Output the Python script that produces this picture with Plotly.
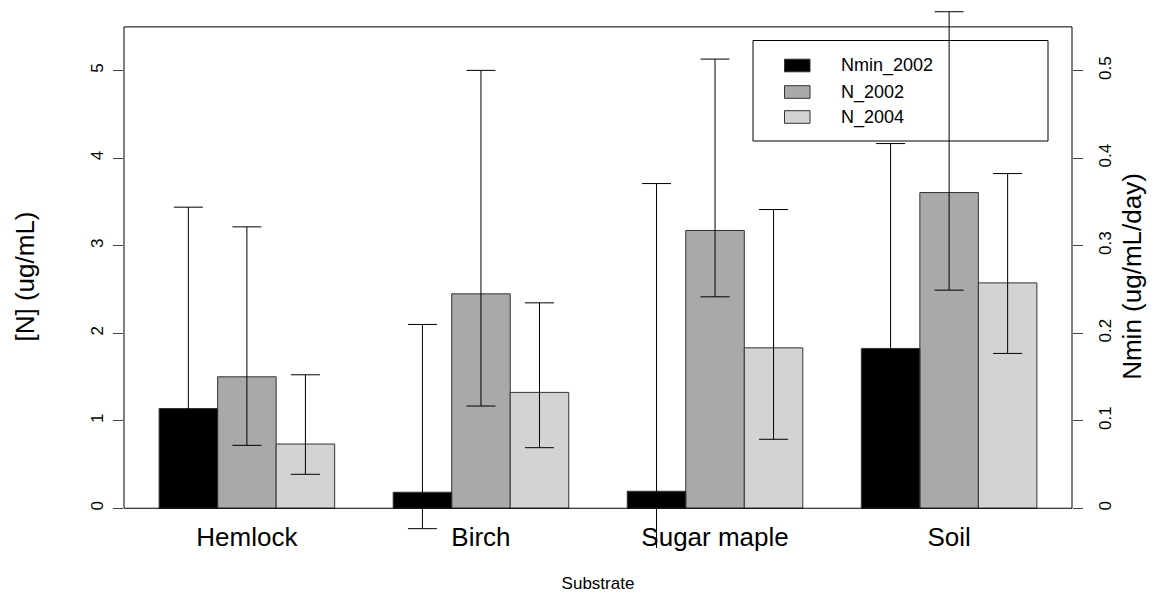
import plotly.graph_objects as go

# ---- data ----
categories = ["Hemlock", "Birch", "Sugar maple", "Soil"]
series_names = ["Nmin_2002", "N_2002", "N_2004"]

nmin_2002 = [0.114, 0.0183, 0.0194, 0.1826]
nmin_2002_hi = [0.344, 0.210, 0.371, 0.4167]
nmin_2002_lo = [0.050, -0.0233, -0.060, 0.100]

n_2002 = [1.502, 2.450, 3.174, 3.607]
n_2002_hi = [3.215, 5.003, 5.132, 5.673]
n_2002_lo = [0.719, 1.168, 2.416, 2.492]

n_2004 = [0.734, 1.324, 1.833, 2.575]
n_2004_hi = [1.525, 2.347, 3.413, 3.824]
n_2004_lo = [0.388, 0.692, 0.788, 1.769]

left_ticks = [0, 1, 2, 3, 4, 5]
right_ticks = [0, 0.1, 0.2, 0.3, 0.4, 0.5]
right_ticktext = ["0", "0.1", "0.2", "0.3", "0.4", "0.5"]

colors = ["#000000", "#A9A9A9", "#D3D3D3"]

FONT = "Liberation Sans, Arial, sans-serif"
W, H = 1155, 593
# data area is padded above/below the drawn box so that whiskers running past it stay visible
ML, MR, MT, MB = 124, 83, 5, 45
N_RANGE = [-0.454, 5.75]
N_BOX_TOP = 5.5
NMIN_RANGE = [N_RANGE[0] / 10, N_RANGE[1] / 10]


def err(vals, hi, lo):
    return dict(type="data", symmetric=False,
                array=[h - v for v, h in zip(vals, hi)],
                arrayminus=[v - l for v, l in zip(vals, lo)],
                color="black", thickness=1, width=14.5)


fig = go.Figure()
specs = [
    (nmin_2002, nmin_2002_hi, nmin_2002_lo, "y2"),
    (n_2002, n_2002_hi, n_2002_lo, "y"),
    (n_2004, n_2004_hi, n_2004_lo, "y"),
]
for i, (vals, hi, lo, ax) in enumerate(specs):
    fig.add_trace(go.Bar(
        x=categories, y=vals, name=series_names[i], yaxis=ax,
        offsetgroup=str(i), alignmentgroup="g",
        marker=dict(color=colors[i], line=dict(color="#333333", width=1)),
        error_y=err(vals, hi, lo), cliponaxis=True, showlegend=False,
    ))

# ---- manual R-style legend (pixel layout converted to paper coords) ----
pw, ph = W - ML - MR, H - MT - MB


def px(x):
    return (x - ML) / pw


def py(y):
    return (H - MB - y) / ph


shapes = [
    # R-style box around the plot region (0 .. 5.5 on the left axis)
    dict(type="rect", xref="paper", yref="y", x0=0, x1=1, y0=0, y1=N_BOX_TOP,
         line=dict(color="black", width=1), fillcolor="rgba(0,0,0,0)", layer="above"),
    dict(type="rect", xref="paper", yref="paper",
         x0=px(753), x1=px(1048), y0=py(141), y1=py(40.5),
         line=dict(color="black", width=1), fillcolor="rgba(0,0,0,0)"),
]
annotations = []
row_y = [65.5, 92, 117]
for i, name in enumerate(series_names):
    shapes.append(dict(type="rect", xref="paper", yref="paper",
                       x0=px(784.5), x1=px(810), y0=py(row_y[i] + 6.3), y1=py(row_y[i] - 6.3),
                       line=dict(color="#333333", width=1), fillcolor=colors[i]))
    annotations.append(dict(xref="paper", yref="paper", x=px(839), y=py(row_y[i]),
                            text=name, showarrow=False, xanchor="left", yanchor="middle",
                            font=dict(family=FONT, size=18, color="black")))

fig.update_layout(
    width=W, height=H,
    margin=dict(l=ML, r=MR, t=MT, b=MB, autoexpand=False),
    paper_bgcolor="white", plot_bgcolor="white",
    barmode="group", bargap=0.25, bargroupgap=0,
    font=dict(family=FONT, color="black"),
    shapes=shapes, annotations=annotations,
    xaxis=dict(
        range=[-0.525, 3.525], showline=False, ticks="", showgrid=False, zeroline=False,
        automargin=False, ticklabelposition="inside", ticklabelstandoff=-6,
        tickfont=dict(family=FONT, size=26, color="black"),
        title=dict(text="Substrate", font=dict(family=FONT, size=17, color="black"), standoff=31),
    ),
    yaxis=dict(
        range=N_RANGE, tickvals=left_ticks, ticks="outside", ticklen=10, tickcolor="#444",
        tickangle=-90, showline=False, showgrid=False, zeroline=False,
        ticklabelstandoff=3, automargin=False,
        tickfont=dict(family=FONT, size=17, color="black"),
        title=dict(text="[N] (ug/mL)", font=dict(family=FONT, size=26, color="black"), standoff=46),
    ),
    yaxis2=dict(
        range=NMIN_RANGE, overlaying="y", side="right",
        tickvals=right_ticks, ticktext=right_ticktext, ticks="outside", ticklen=10, tickcolor="#444",
        tickangle=-90, showline=False, showgrid=False, zeroline=False,
        ticklabelstandoff=8, automargin=False,
        tickfont=dict(family=FONT, size=17, color="black"),
        title=dict(text="Nmin (ug/mL/day)", font=dict(family=FONT, size=26, color="black"), standoff=8),
    ),
)

fig.write_html("out.html")
